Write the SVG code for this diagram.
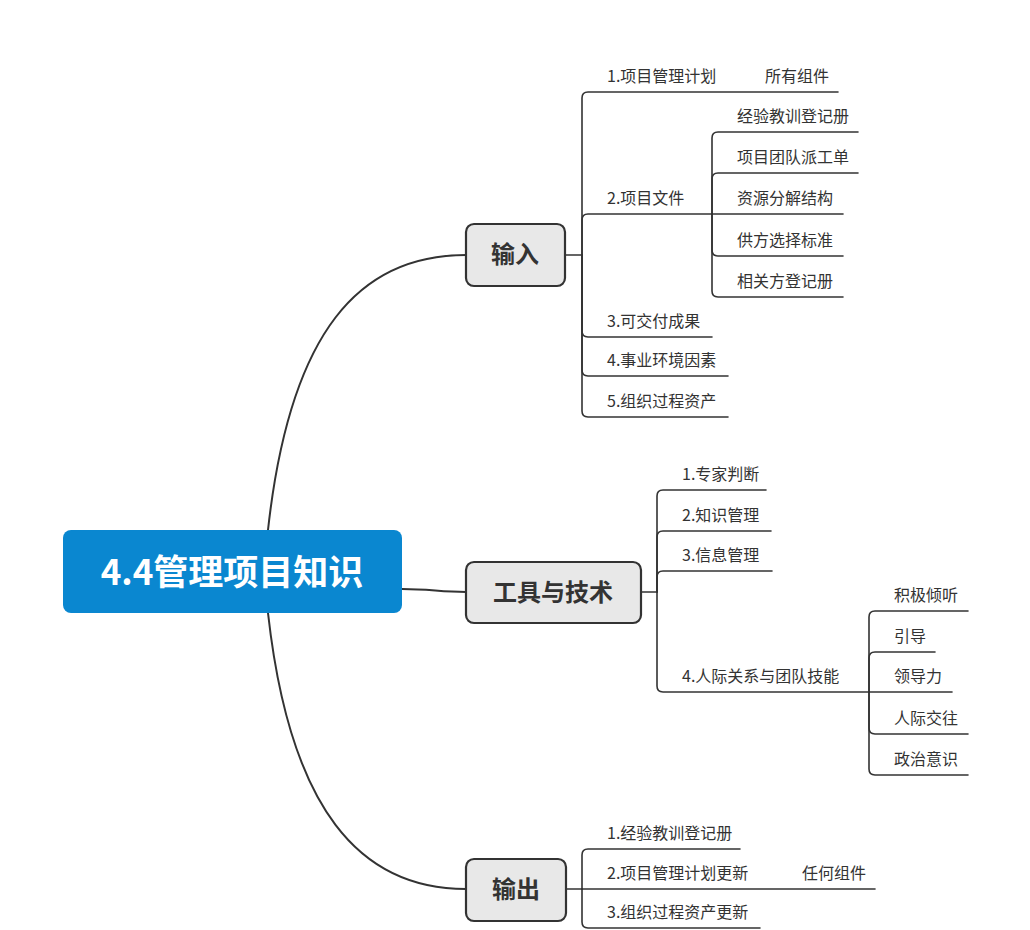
<svg xmlns="http://www.w3.org/2000/svg" width="1030" height="930" viewBox="0 0 1030 930">
<style>
.ln{fill:none;stroke:#333;stroke-width:1.6;stroke-linecap:round}
.cv{fill:none;stroke:#333;stroke-width:2}
.t{font-family:"Noto Sans CJK SC","Noto Sans",sans-serif;font-size:16px;fill:#333}
.mn{fill:#e8e8e8;stroke:#333;stroke-width:2.2}
.mt{font-family:"Noto Sans CJK SC","Noto Sans",sans-serif;font-size:24px;font-weight:bold;fill:#333;text-anchor:middle}
.rt{font-family:"Noto Sans CJK SC","Noto Sans",sans-serif;font-size:35px;font-weight:bold;fill:#fff;text-anchor:middle}
</style>
<rect width="1030" height="930" fill="#fff"/>
<g id="connectors">
<path class="cv" d="M268,530 C290,330 360,255 466,255"/>
<path class="cv" d="M402,589 C430,589 440,592 466,592"/>
<path class="cv" d="M268,613 C290,810 360,889 466,889"/>
<path class="ln" d="M565,255 H582"/>
<path class="ln" d="M582,255 V98 Q582,92 588,92 H838"/>
<path class="ln" d="M582,255 V220 Q582,214 588,214 H712"/>
<path class="ln" d="M582,255 V331 Q582,337 588,337 H712"/>
<path class="ln" d="M582,255 V370 Q582,376 588,376 H728"/>
<path class="ln" d="M582,255 V411 Q582,417 588,417 H728"/>
<path class="ln" d="M712,214 V138 Q712,132 718,132 H858"/>
<path class="ln" d="M712,214 V179 Q712,173 718,173 H858"/>
<path class="ln" d="M712,214 H843"/>
<path class="ln" d="M712,214 V250 Q712,256 718,256 H843"/>
<path class="ln" d="M712,214 V291 Q712,297 718,297 H843"/>
<path class="ln" d="M641,592 H657"/>
<path class="ln" d="M657,592 V496 Q657,490 663,490 H766"/>
<path class="ln" d="M657,592 V537 Q657,531 663,531 H771"/>
<path class="ln" d="M657,592 V577 Q657,571 663,571 H772"/>
<path class="ln" d="M657,592 V686 Q657,692 663,692 H869"/>
<path class="ln" d="M869,692 V617 Q869,611 875,611 H968"/>
<path class="ln" d="M869,692 V658 Q869,652 875,652 H935"/>
<path class="ln" d="M869,692 H952"/>
<path class="ln" d="M869,692 V728 Q869,734 875,734 H968"/>
<path class="ln" d="M869,692 V769 Q869,775 875,775 H968"/>
<path class="ln" d="M566,889 H582"/>
<path class="ln" d="M582,889 V855 Q582,849 588,849 H740"/>
<path class="ln" d="M582,889 H875"/>
<path class="ln" d="M582,889 V922 Q582,928 588,928 H760"/>
</g>
<g id="root">
<rect x="63" y="530" width="339" height="83" rx="8" fill="#0a87d0"/>
<text class="rt" x="232" y="585">4.4管理项目知识</text>
</g>
<g id="input">
<rect class="mn" x="466" y="224" width="99" height="62" rx="8"/>
<text class="mt" x="515" y="263">输入</text>
</g>
<g id="tools">
<rect class="mn" x="466" y="562" width="175" height="61" rx="8"/>
<text class="mt" x="553" y="601">工具与技术</text>
</g>
<g id="output">
<rect class="mn" x="466" y="859" width="100" height="62" rx="8"/>
<text class="mt" x="516" y="898">输出</text>
</g>
<g id="input-children">
<text class="t" x="607" y="82">1.项目管理计划</text>
<text class="t" x="765" y="82">所有组件</text>
<text class="t" x="607" y="204">2.项目文件</text>
<text class="t" x="737" y="122">经验教训登记册</text>
<text class="t" x="737" y="163">项目团队派工单</text>
<text class="t" x="737" y="204">资源分解结构</text>
<text class="t" x="737" y="246">供方选择标准</text>
<text class="t" x="737" y="287">相关方登记册</text>
<text class="t" x="607" y="327">3.可交付成果</text>
<text class="t" x="607" y="366">4.事业环境因素</text>
<text class="t" x="607" y="407">5.组织过程资产</text>
</g>
<g id="tools-children">
<text class="t" x="682" y="480">1.专家判断</text>
<text class="t" x="682" y="521">2.知识管理</text>
<text class="t" x="682" y="561">3.信息管理</text>
<text class="t" x="682" y="682">4.人际关系与团队技能</text>
<text class="t" x="894" y="601">积极倾听</text>
<text class="t" x="894" y="642">引导</text>
<text class="t" x="894" y="682">领导力</text>
<text class="t" x="894" y="724">人际交往</text>
<text class="t" x="894" y="765">政治意识</text>
</g>
<g id="output-children">
<text class="t" x="607" y="839">1.经验教训登记册</text>
<text class="t" x="607" y="879">2.项目管理计划更新</text>
<text class="t" x="802" y="879">任何组件</text>
<text class="t" x="607" y="918">3.组织过程资产更新</text>
</g>
</svg>
